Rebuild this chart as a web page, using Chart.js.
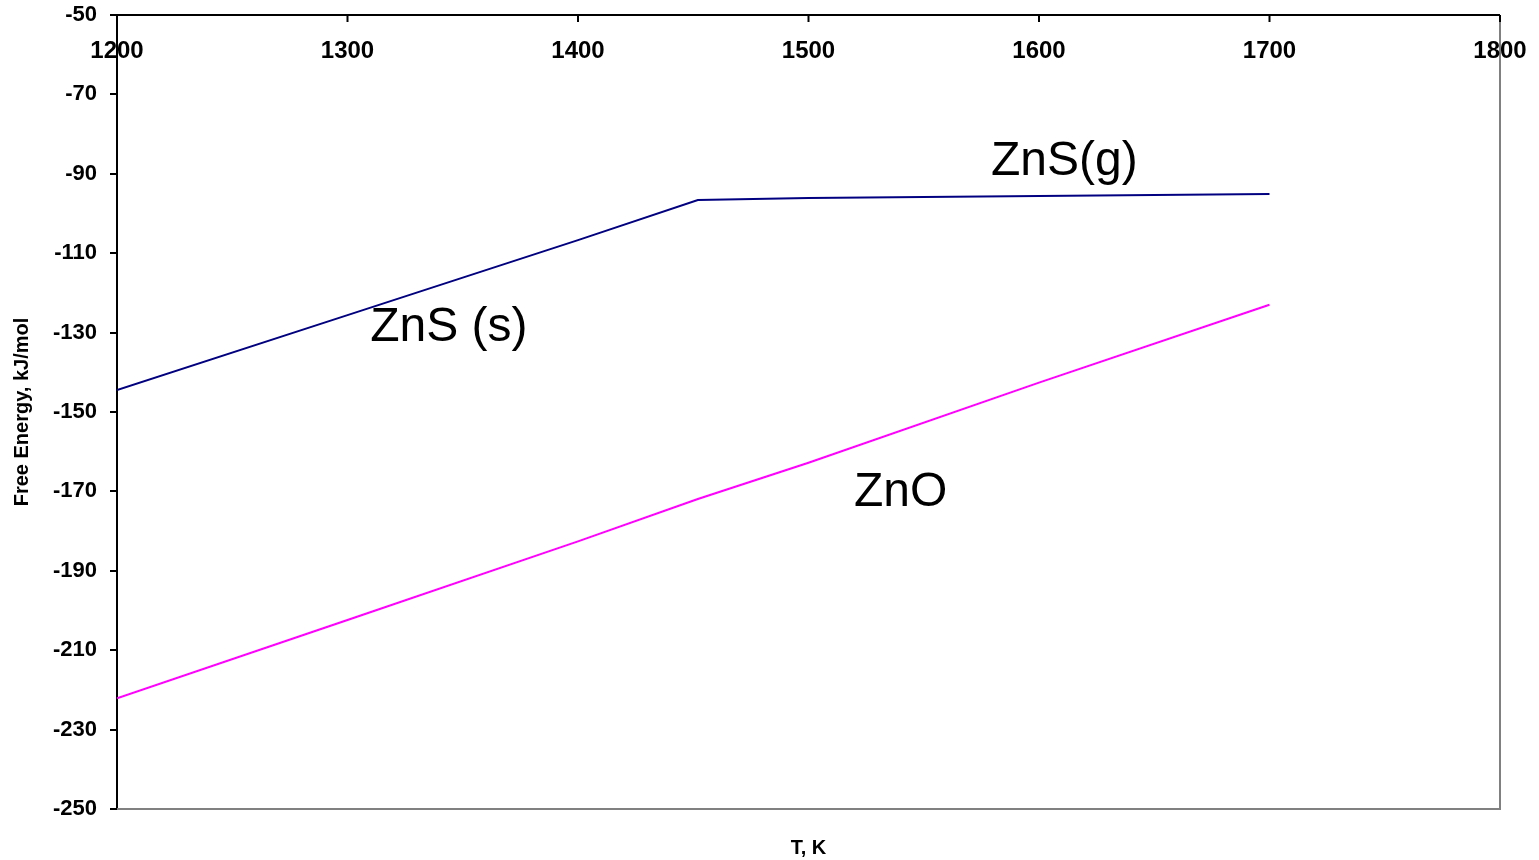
<!DOCTYPE html>
<html>
<head>
<meta charset="utf-8">
<style>
  html, body { margin: 0; padding: 0; background: #fff; }
  #wrap { width: 1539px; height: 860px; }
</style>
</head>
<body>
<div id="wrap"><canvas id="myChart"></canvas></div>
<script src="https://cdn.jsdelivr.net/npm/chart.js"></script>
<script>
  // temperatures, K
  const temps = [1200, 1300, 1400, 1452, 1500, 1600, 1700];
  // free energy, kJ/mol
  const znsValues = [-144.5, -125.6, -106.7, -96.6, -96.1, -95.6, -95.1];
  const znoValues = [-222.1, -202.4, -182.6, -171.9, -162.8, -142.6, -123.0];
  const xTicks = [1200, 1300, 1400, 1500, 1600, 1700, 1800];

  const toPoints = (ys) => temps.map((t, i) => ({ x: t, y: ys[i] }));

  // frame, top axis (labels inside the plot) and the text labels
  const frame = {
    id: 'frame',
    afterDraw(chart) {
      const { ctx, chartArea: a, scales } = chart;
      const x = scales.x, y = scales.y;
      ctx.save();
      // right + bottom border, grey
      ctx.strokeStyle = '#808080';
      ctx.lineWidth = 2;
      ctx.beginPath();
      ctx.moveTo(a.right, a.top);
      ctx.lineTo(a.right, a.bottom);
      ctx.lineTo(a.left, a.bottom);
      ctx.stroke();
      // top axis line
      ctx.strokeStyle = '#000';
      ctx.beginPath();
      ctx.moveTo(a.left, a.top);
      ctx.lineTo(a.right, a.top);
      ctx.stroke();
      // top ticks + labels
      ctx.fillStyle = '#000';
      ctx.font = 'bold 24px "Liberation Sans", Arial, sans-serif';
      ctx.textAlign = 'center';
      ctx.textBaseline = 'middle';
      xTicks.forEach(v => {
        const px = x.getPixelForValue(v);
        ctx.beginPath();
        ctx.moveTo(px, a.top);
        ctx.lineTo(px, a.top + 7);
        ctx.stroke();
        ctx.fillText(String(v), px, a.top + 36);
      });
      // x title
      ctx.font = 'bold 20px "Liberation Sans", Arial, sans-serif';
      ctx.fillText('T, K', (a.left + a.right) / 2, 848);
      // series labels
      ctx.font = '48px "Liberation Sans", Arial, sans-serif';
      ctx.fillText('ZnS(g)', x.getPixelForValue(1611), y.getPixelForValue(-87));
      ctx.fillText('ZnS (s)', x.getPixelForValue(1344), y.getPixelForValue(-128.8));
      ctx.fillText('ZnO', x.getPixelForValue(1540), y.getPixelForValue(-170.4));
      ctx.restore();
    }
  };

  new Chart(document.getElementById('myChart'), {
    type: 'scatter',
    data: {
      datasets: [
        {
          label: 'ZnS',
          data: toPoints(znsValues),
          showLine: true,
          borderColor: '#000080',
          borderWidth: 2,
          pointRadius: 0,
          tension: 0,
        },
        {
          label: 'ZnO',
          data: toPoints(znoValues),
          showLine: true,
          borderColor: '#ff00ff',
          borderWidth: 2,
          pointRadius: 0,
          tension: 0,
        },
      ],
    },
    options: {
      responsive: true,
      maintainAspectRatio: false,
      animation: false,
      events: [],
      layout: {
        padding: { left: 0, top: 15, right: 39, bottom: 51 }
      },
      plugins: {
        legend: { display: false },
        tooltip: { enabled: false },
      },
      scales: {
        x: {
          type: 'linear',
          display: false,
          min: 1200,
          max: 1800,
        },
        y: {
          min: -250,
          max: -50,
          afterFit(scale) {
            scale.width = 117;
            scale.paddingTop = 0;
            scale.paddingBottom = 0;
          },
          ticks: {
            stepSize: 20,
            padding: 13,
            color: '#000',
            font: { family: '"Liberation Sans", Arial, sans-serif', size: 22, weight: 'bold' },
          },
          grid: {
            drawOnChartArea: false,
            tickLength: 7,
            color: '#000',
            lineWidth: 2,
          },
          border: { color: '#000', width: 2 },
          title: {
            display: true,
            text: 'Free Energy, kJ/mol',
            color: '#000',
            padding: { top: 10, bottom: 4 },
            font: { family: '"Liberation Sans", Arial, sans-serif', size: 20, weight: 'bold' },
          },
        },
      },
    },
    plugins: [frame],
  });
</script>
</body>
</html>
